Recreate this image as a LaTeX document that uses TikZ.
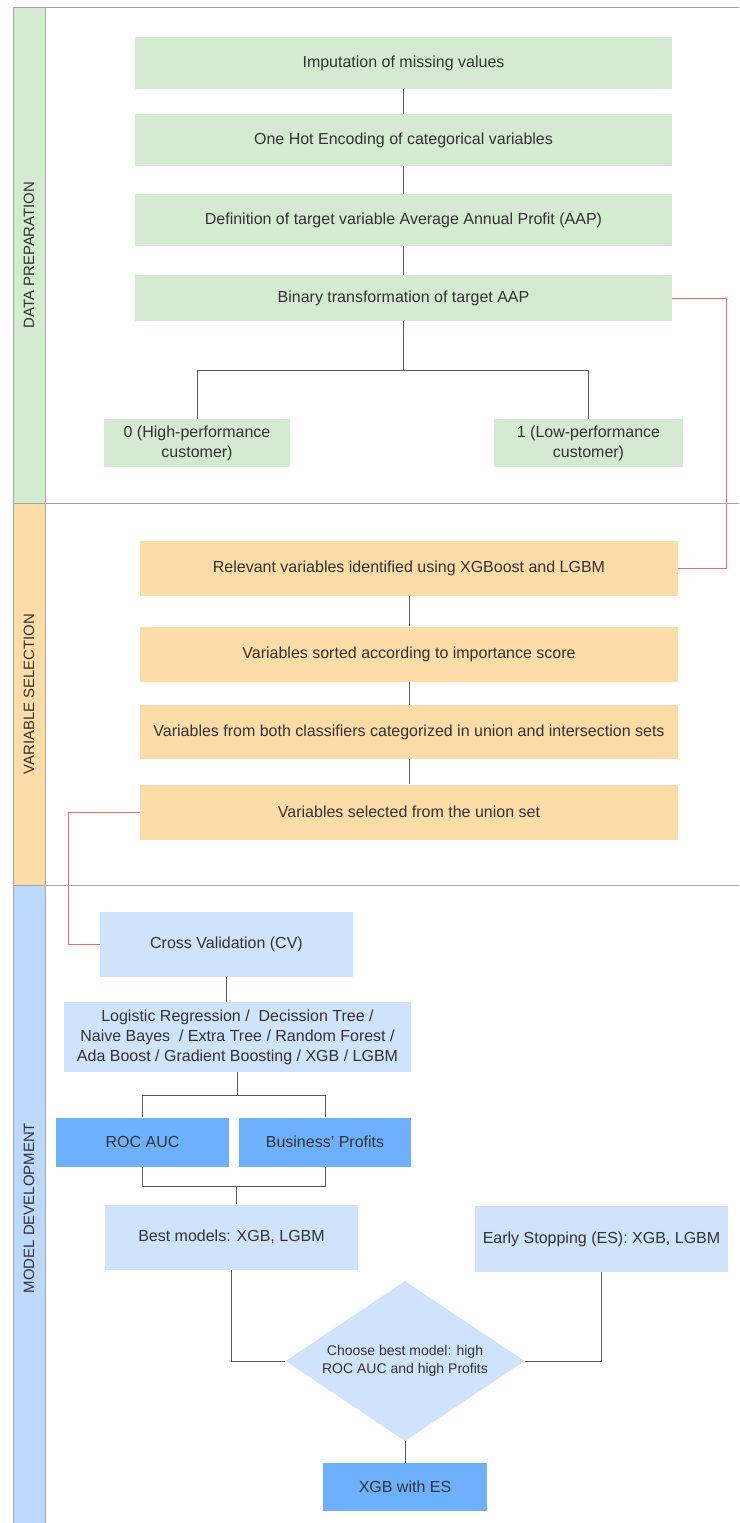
\documentclass[tikz,border=0pt]{standalone}
\usepackage{fontspec}
\setmainfont{Liberation Sans}
\usepackage{tikz}
\usetikzlibrary{shapes.geometric}
\definecolor{prepgreen}{HTML}{D5EBD1}
\definecolor{selorange}{HTML}{FDDCA7}
\definecolor{devblue}{HTML}{CFE3FD}
\definecolor{laneblue}{HTML}{BCD9FC}
\definecolor{metricblue}{HTML}{6CB0FE}
\definecolor{txtgrey}{HTML}{333333}
\definecolor{linkred}{HTML}{EE6A6A}
\tikzstyle{box} = [rectangle, inner sep=0pt, align=center, text=txtgrey, font=\fontsize{12}{15}\selectfont]
\tikzstyle{prepbox} = [box, fill=prepgreen]
\tikzstyle{selbox} = [box, fill=selorange]
\tikzstyle{devbox} = [box, fill=devblue]
\tikzstyle{metricbox} = [box, fill=metricblue]
\tikzstyle{decision} = [diamond, aspect=1.5, fill=devblue, inner sep=0pt, align=center, text=txtgrey, font=\fontsize{10.5}{13.5}\selectfont]
\tikzstyle{lanelabel} = [rotate=90, text=txtgrey, font=\fontsize{11.2}{12}\selectfont]
\tikzstyle{lane} = [draw=black!35, line width=0.75pt]
\tikzstyle{line} = [draw=black!65, line width=0.6pt]
\tikzstyle{link} = [draw=linkred, line width=0.75pt]

\begin{document}
\begin{tikzpicture}[x=0.75pt,y=-0.75pt]
\useasboundingbox (0,0) rectangle (739,1523);
\fill[white] (0,0) rectangle (739,1523);
\fill[prepgreen] (13,8) rectangle (45,503);
\fill[selorange] (13,503) rectangle (45,885);
\fill[laneblue] (13,885) rectangle (45,1523);
\draw[lane] (13,8) -- (739,8);
\draw[lane] (13,503) -- (739,503);
\draw[lane] (13,885) -- (739,885);
\draw[lane] (13,8) -- (13,1523);
\draw[lane] (45,8) -- (45,1523);
\node[lanelabel] (prep) at (29,255) {DATA PREPARATION};
\node[lanelabel] (varsel) at (29,694) {VARIABLE SELECTION};
\node[lanelabel] (modeldev) at (29,1208) {MODEL DEVELOPMENT};

\node[prepbox, minimum width=402.75pt, minimum height=39pt] (impute) at (403.5,63) {Imputation of missing values};
\node[prepbox, minimum width=402.75pt, minimum height=39pt] (onehot) at (403.5,140) {One Hot Encoding of categorical variables};
\node[prepbox, minimum width=402.75pt, minimum height=39pt] (target) at (403.5,220) {Definition of target variable Average Annual Profit (AAP)};
\node[prepbox, minimum width=402.75pt, minimum height=34.5pt] (binary) at (403.5,298) {Binary transformation of target AAP};
\node[prepbox, minimum width=139.5pt, minimum height=36pt] (high) at (197,443) {0 (High-performance\\customer)};
\node[prepbox, minimum width=141.75pt, minimum height=36pt] (low) at (588.5,443) {1 (Low-performance\\customer)};
\coordinate (split) at (403.5,370);
\draw[line] (impute) -- (onehot);
\draw[line] (onehot) -- (target);
\draw[line] (target) -- (binary);
\draw[line] (binary) -- (split);
\draw[line] (split) -| (high);
\draw[line] (split) -| (low);

\node[selbox, minimum width=403.5pt, minimum height=41.25pt] (relevant) at (409,568) {Relevant variables identified using XGBoost and LGBM};
\node[selbox, minimum width=403.5pt, minimum height=41.25pt] (sorted) at (409,654) {Variables sorted according to importance score};
\node[selbox, minimum width=403.5pt, minimum height=40.5pt] (union) at (409,732) {Variables from both classifiers categorized in union and intersection sets};
\node[selbox, minimum width=403.5pt, minimum height=41.25pt] (selected) at (409,812) {Variables selected from the union set};
\draw[link] (binary.east) -- ++(54,0) |- (relevant.east);
\draw[line] (relevant) -- (sorted);
\draw[line] (sorted) -- (union);
\draw[line] (union) -- (selected);

\node[devbox, minimum width=189.75pt, minimum height=48.75pt] (cv) at (226.5,944) {Cross Validation (CV)};
\node[devbox, minimum width=260.25pt, minimum height=52.5pt] (algos) at (237.5,1037) {Logistic Regression /~ Decission Tree /\\Naive Bayes~ / Extra Tree / Random Forest /\\Ada Boost / Gradient Boosting / XGB / LGBM};
\node[metricbox, minimum width=129.75pt, minimum height=36.75pt] (roc) at (142.5,1142) {ROC AUC};
\node[metricbox, minimum width=129pt, minimum height=36.75pt] (profit) at (325,1142) {Business' Profits};
\node[devbox, minimum width=189.75pt, minimum height=48.75pt] (best) at (231.5,1237) {Best models: XGB, LGBM};
\node[devbox, minimum width=189.75pt, minimum height=49.5pt] (early) at (601.5,1239) {Early Stopping (ES): XGB, LGBM};
\node[decision, minimum width=179.25pt, minimum height=120pt] (choose) at (405,1361) {Choose best model: high\\ROC AUC and high Profits};
\node[metricbox, minimum width=123pt, minimum height=36pt] (xgbes) at (405,1487) {XGB with ES};
\coordinate (msplit) at (237.5,1095);
\coordinate (mjoin) at (236,1186);
\draw[link] (selected.west) -- ++(-71,0) |- (cv.west);
\draw[line] (cv.south) -- (cv.south |- algos.north);
\draw[line] (algos.south) -- (msplit);
\draw[line] (msplit) -| (roc);
\draw[line] (msplit) -| (profit);
\draw[line] (roc) |- (mjoin);
\draw[line] (profit) |- (mjoin);
\draw[line] (mjoin) -- (mjoin |- best.north);
\draw[line] (best) |- (choose);
\draw[line] (early) |- (choose);
\draw[line] (choose) -- (xgbes);
\end{tikzpicture}
\end{document}
